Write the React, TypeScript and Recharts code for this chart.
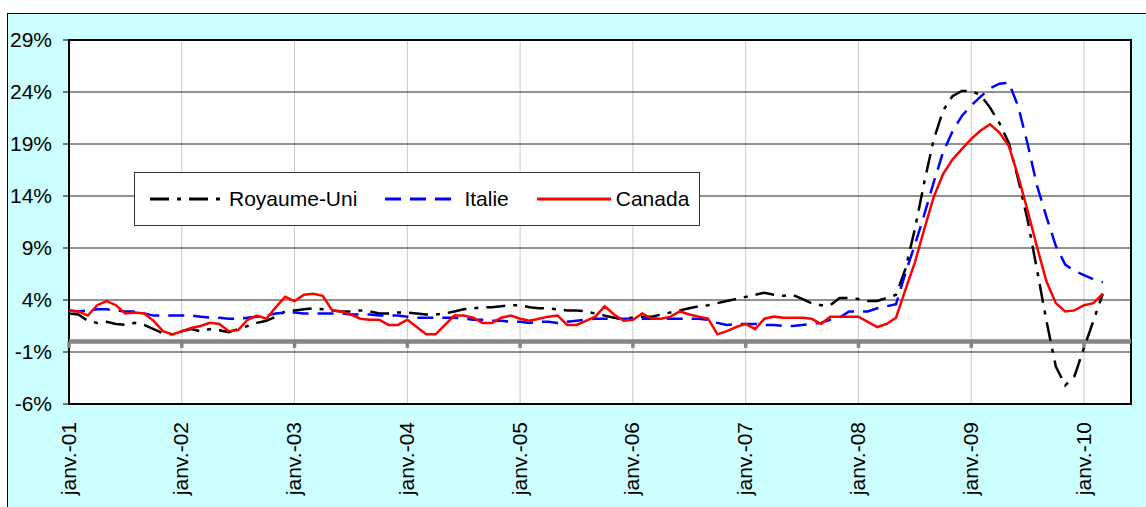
import React from "react";
import {
  LineChart,
  Line,
  XAxis,
  YAxis,
  CartesianGrid,
  ReferenceLine,
  ReferenceArea,
  Legend,
} from "recharts";

// monthly values, janv.-01 .. mars-10
const royaumeUni = [
  2.7, 2.6, 2.0, 1.8, 1.9, 1.7, 1.6, 1.8, 1.6, 1.2, 0.8, 0.7,
  1.0, 1.2, 1.0, 1.2, 1.1, 0.9, 1.2, 1.5, 1.8, 2.0, 2.4, 2.9,
  3.0, 3.1, 3.2, 3.1, 3.0, 2.9, 2.9, 3.0, 2.9, 2.7, 2.7, 2.8,
  2.8, 2.7, 2.6, 2.6, 2.7, 2.9, 3.1, 3.2, 3.3, 3.3, 3.4, 3.5,
  3.5, 3.3, 3.2, 3.2, 3.1, 3.0, 3.0, 2.9, 2.7, 2.5, 2.3, 2.2,
  2.3, 2.4, 2.4, 2.6, 2.8, 3.0, 3.2, 3.4, 3.5, 3.7, 3.9, 4.1,
  4.3, 4.5, 4.7, 4.5, 4.4, 4.5, 4.1, 3.7, 3.5, 3.5, 4.2, 4.2,
  4.1, 3.9, 3.9, 4.2, 4.5, 7.0, 10.8, 15.3, 19.4, 22.2, 23.6, 24.1,
  24.1, 23.7, 22.5, 21.0, 19.1, 15.6, 11.7, 6.9, 2.0, -2.4, -4.2, -3.3,
  -0.6, 2.0, 4.6,
];

const italie = [
  3.0, 2.9, 3.0, 3.1, 3.1, 3.0, 2.9, 2.9, 2.7, 2.5, 2.5, 2.5,
  2.5, 2.5, 2.4, 2.3, 2.3, 2.2, 2.2, 2.3, 2.4, 2.5, 2.7, 2.8,
  2.8, 2.7, 2.7, 2.7, 2.7, 2.7, 2.6, 2.6, 2.6, 2.5, 2.5, 2.5,
  2.4, 2.3, 2.3, 2.3, 2.3, 2.3, 2.2, 2.1, 2.1, 2.0, 2.0, 1.9,
  1.9, 1.8, 1.9, 1.9, 1.8, 1.9, 2.0, 2.1, 2.2, 2.2, 2.2, 2.2,
  2.2, 2.2, 2.2, 2.2, 2.2, 2.2, 2.2, 2.2, 2.1, 1.8, 1.6, 1.7,
  1.7, 1.7, 1.6, 1.6, 1.5, 1.5, 1.6, 1.7, 1.8, 2.1, 2.3, 2.9,
  2.9, 2.9, 3.2, 3.4, 3.6, 6.6, 9.3, 12.2, 15.3, 18.2, 20.2, 21.7,
  22.7, 23.55, 24.35, 24.8, 24.9, 22.6, 19.0, 15.0, 12.0, 9.2, 7.4, 6.8,
  6.4, 6.0, 5.7,
];

const canada = [
  3.0, 2.9, 2.5, 3.5, 3.9, 3.5, 2.7, 2.8, 2.7, 2.0, 1.0, 0.7,
  1.0, 1.3, 1.5, 1.8, 1.7, 1.0, 1.1, 2.1, 2.5, 2.2, 3.3, 4.3,
  3.9, 4.5, 4.6, 4.4, 3.0, 2.9, 2.6, 2.2, 2.1, 2.1, 1.6, 1.6,
  2.1, 1.4, 0.7, 0.7, 1.6, 2.5, 2.5, 2.3, 1.8, 1.8, 2.3, 2.5,
  2.2, 2.0, 2.2, 2.4, 2.5, 1.6, 1.6, 2.0, 2.4, 3.4, 2.6, 2.0,
  2.1, 2.7, 2.2, 2.2, 2.4, 2.9, 2.6, 2.4, 2.2, 0.7, 1.0, 1.4,
  1.7, 1.2, 2.2, 2.4, 2.3, 2.3, 2.3, 2.2, 1.7, 2.4, 2.4, 2.4,
  2.4, 1.9, 1.4, 1.7, 2.3, 5.0, 7.6, 10.8, 13.9, 16.1, 17.5, 18.5,
  19.5, 20.3, 20.9, 20.1, 18.8, 15.9, 12.6, 9.1, 5.8, 3.7, 2.9, 3.0,
  3.5, 3.7, 4.6,
];

const years = ["01", "02", "03", "04", "05", "06", "07", "08", "09", "10"];
const monthNames = ["janv.", "févr.", "mars", "avr.", "mai", "juin", "juil.", "août", "sept.", "oct.", "nov.", "déc."];
// axis runs janv.-01 .. juin-10
const months = years.flatMap((y) => monthNames.map((m) => `${m}-${y}`)).slice(0, 114);
const yTicks = [-6, -1, 4, 9, 14, 19, 24, 29];
const janTicks = months.map((m, i) => i).filter((i) => i % 12 === 0);

const series = [
  { key: "uk", name: "Royaume-Uni", color: "#000000", dash: "19 8 4 8" },
  { key: "it", name: "Italie", color: "#0000ff", dash: "16 9" },
  { key: "ca", name: "Canada", color: "#ff0000", dash: undefined },
];

const data = months.map((label, i) => ({
  i,
  label,
  uk: royaumeUni[i] ?? null,
  it: italie[i] ?? null,
  ca: canada[i] ?? null,
}));

const FONT = "'Liberation Sans', Arial, sans-serif";

const XTick = (props: any) => {
  const { x, y, payload } = props;
  return (
    <text
      x={0}
      y={0}
      transform={`translate(${x},${y}) rotate(-90)`}
      textAnchor="end"
      dy={6.5}
      fontSize={21}
      fill="#000"
    >
      {months[payload.value]}
    </text>
  );
};

const LegendBox = () => (
  <div
    style={{
      display: "flex",
      alignItems: "center",
      height: "100%",
      paddingLeft: 15,
      boxSizing: "border-box",
      fontSize: 21,
      color: "#000",
      whiteSpace: "nowrap",
    }}
  >
    {series.map((s) => (
      <div key={s.key} style={{ display: "flex", alignItems: "center", marginRight: 28, flexShrink: 0 }}>
        <svg width={74} height={10} style={{ flexShrink: 0 }}>
          <line x1={0} y1={5} x2={74} y2={5} stroke={s.color} strokeWidth={3} strokeDasharray={s.dash} />
        </svg>
        <span style={{ marginLeft: 5 }}>{s.name}</span>
      </div>
    ))}
  </div>
);

export default function App() {
  return (
    <div style={{ position: "absolute", left: 0, top: 0, width: 1146, height: 507, fontFamily: FONT }}>
      <div
        style={{
          position: "absolute",
          left: 7,
          top: 13,
          right: 0,
          bottom: 0,
          background: "#ccffff",
          borderLeft: "1.5px solid #000",
          borderTop: "1.5px solid #000",
        }}
      />
      <div style={{ position: "absolute", left: 0, top: 0 }}>
        <LineChart width={1146} height={507} data={data} margin={{ top: 40, right: 15, bottom: 0, left: 0 }}>
          <CartesianGrid fill="#ffffff" horizontal={false} stroke="#c8c8c8" strokeWidth={1} />
          <CartesianGrid vertical={false} stroke="#222" strokeWidth={1} fill="none" />
          <XAxis
            dataKey="i"
            type="number"
            domain={[0, 113]}
            ticks={janTicks}
            interval={0}
            tick={<XTick />}
            tickSize={0}
            tickMargin={18}
            axisLine={false}
            height={103}
          />
          <YAxis
            type="number"
            domain={[-6, 29]}
            ticks={yTicks}
            interval={0}
            width={69}
            tickSize={6}
            tickMargin={11}
            tickFormatter={(v) => `${v}%`}
            tick={{ fontSize: 21, fill: "#000" }}
            tickLine={{ stroke: "#000" }}
            axisLine={false}
          />
          <ReferenceLine y={0} stroke="#858585" strokeWidth={4.5} />
          {janTicks.map((t) => (
            <ReferenceLine
              key={t}
              segment={[{ x: t, y: 0 }, { x: t, y: -0.6 }]}
              stroke="#858585"
              strokeWidth={3.5}
            />
          ))}
          <ReferenceArea x1={0} x2={113} y1={-6} y2={29} fill="none" stroke="#000" strokeWidth={2} />
          {series.map((s) => (
            <Line
              key={s.key}
              dataKey={s.key}
              name={s.name}
              type="linear"
              stroke={s.color}
              strokeWidth={2.5}
              strokeDasharray={s.dash}
              dot={false}
              activeDot={false}
              isAnimationActive={false}
            />
          ))}
          <Legend
            layout="horizontal"
            verticalAlign="middle"
            align="center"
            content={<LegendBox />}
            wrapperStyle={{
              left: 134,
              top: 172,
              width: 566,
              height: 54,
              background: "#fff",
              border: "1px solid #333",
              boxSizing: "border-box",
            }}
          />
        </LineChart>
      </div>
    </div>
  );
}
